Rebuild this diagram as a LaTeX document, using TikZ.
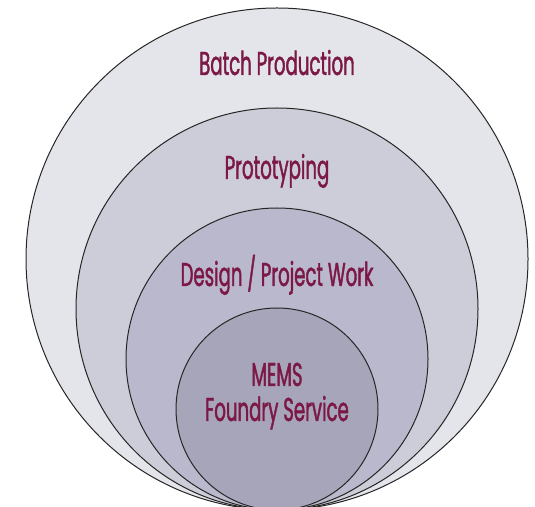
\documentclass[tikz,border=0pt]{standalone}
\usepackage{fontspec}
\setmainfont{Poppins}[FakeStretch=0.55, FakeBold=1.2]
\usepackage{tikz}
\usetikzlibrary{positioning}

\definecolor{batchfill}{HTML}{E4E5EA}
\definecolor{protofill}{HTML}{CDCDD9}
\definecolor{designfill}{HTML}{B9B8CC}
\definecolor{memsfill}{HTML}{A7A5BA}
\definecolor{labelred}{HTML}{7B1846}

\tikzset{
  ring/.style={circle, draw=black!85, line width=1pt, inner sep=0pt, outer sep=0pt, anchor=south},
  lbl/.style={text=labelred, font=\fontsize{33}{37}\selectfont, inner sep=0pt, anchor=base}
}

\begin{document}
\begin{tikzpicture}[x=1pt,y=1pt]

  % Frame
  \useasboundingbox (0,0) rectangle (535,506);
  \coordinate (base) at (277,-4);

  % Define circles
  \node[ring, fill=batchfill, minimum size=502pt] (batch) at (base) {};
  \node[ring, fill=protofill, minimum size=402pt] (proto) at (base) {};
  \node[ring, fill=designfill, minimum size=302pt] (design) at (base) {};
  \node[ring, fill=memsfill, minimum size=202pt] (mems) at (base) {};

  % Labels
  \node[lbl] (batchtxt) at ([yshift=-67pt]batch.north) {Batch Production};
  \node[lbl] (prototxt) at ([yshift=-71pt]proto.north) {Prototyping};
  \node[lbl] (designtxt) at ([yshift=-78pt]design.north) {Design / Project Work};
  \node[lbl] (memstxt) at ([yshift=-78pt]mems.north) {MEMS};
  \node[lbl] (foundrytxt) at ([yshift=-113pt]mems.north) {Foundry Service};

\end{tikzpicture}
\end{document}
